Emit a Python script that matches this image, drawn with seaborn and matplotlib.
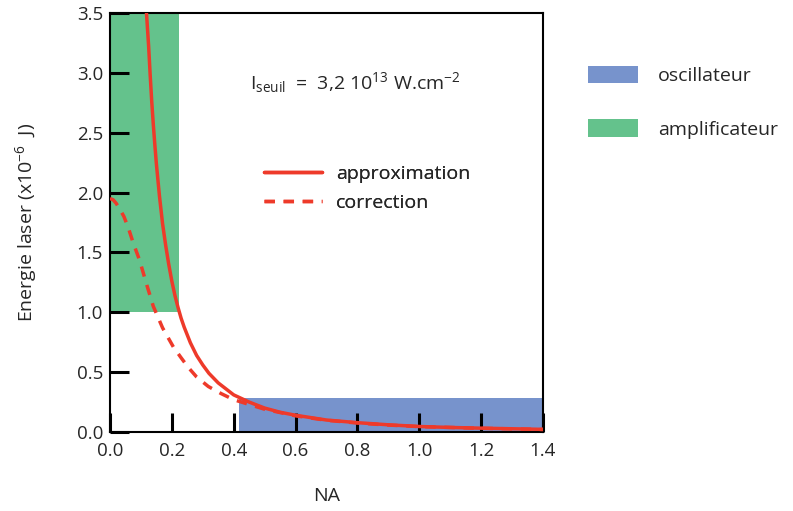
import numpy as np
import pandas as pd
import matplotlib.pyplot as plt
from matplotlib.patches import Rectangle, Patch
from matplotlib.lines import Line2D
import seaborn as sns

# approximation curve (solid)
na_approx = [0.118, 0.125, 0.13, 0.135, 0.14, 0.145, 0.15, 0.16, 0.17, 0.18, 0.19,
             0.20, 0.21, 0.22, 0.23, 0.24, 0.25, 0.26, 0.28, 0.30, 0.32, 0.35,
             0.38, 0.40, 0.45, 0.50, 0.55, 0.60, 0.70, 0.80, 0.90, 1.00, 1.10,
             1.20, 1.30, 1.40]
e_approx = [3.50, 3.22, 2.98, 2.76, 2.57, 2.40, 2.24, 1.97, 1.74, 1.56, 1.40,
            1.26, 1.14, 1.04, 0.95, 0.875, 0.81, 0.745, 0.64, 0.56, 0.49, 0.41,
            0.35, 0.31, 0.25, 0.20, 0.165, 0.14, 0.10, 0.078, 0.060, 0.046, 0.038,
            0.032, 0.027, 0.022]

# correction curve (dashed)
na_corr = [0.0, 0.01, 0.02, 0.03, 0.045, 0.06, 0.075, 0.095, 0.12, 0.14, 0.17,
           0.205, 0.23, 0.253, 0.28, 0.318, 0.36, 0.40, 0.45, 0.50, 0.60, 0.70,
           0.80, 0.90, 1.00, 1.20, 1.40]
e_corr = [1.95, 1.94, 1.91, 1.87, 1.80, 1.70, 1.58, 1.44, 1.22, 1.05, 0.87,
          0.71, 0.62, 0.54, 0.46, 0.38, 0.32, 0.27, 0.23, 0.19, 0.135, 0.098,
          0.075, 0.058, 0.045, 0.031, 0.021]

# regions (x0, x1, y0, y1)
amplificateur = [0.0, 0.223, 1.0, 3.5]
oscillateur = [0.417, 1.4, 0.0, 0.287]

red = '#ee3a2a'
green = '#64c28c'
blue = '#7793cc'

sns.set_style("ticks")
plt.rcParams['font.family'] = ['Open Sans', 'DejaVu Sans']
plt.rcParams['mathtext.fontset'] = 'custom'
plt.rcParams['mathtext.rm'] = 'Open Sans'
plt.rcParams['mathtext.it'] = 'Open Sans'

fig = plt.figure(figsize=(7.93, 5.11), dpi=100)
ax = fig.add_axes([0.1387, 0.1546, 0.546, 0.82])
ax.set_axisbelow(False)

for reg, col in [(amplificateur, green), (oscillateur, blue)]:
    ax.add_patch(Rectangle((reg[0], reg[2]), reg[1] - reg[0], reg[3] - reg[2],
                           facecolor=col, edgecolor='none', zorder=1))

df_a = pd.DataFrame({'NA': na_approx, 'E': e_approx})
df_c = pd.DataFrame({'NA': na_corr, 'E': e_corr})
sns.lineplot(data=df_c, x='NA', y='E', ax=ax, color=red, lw=2.5,
             linestyle=(0, (3, 2.5)), sort=False, zorder=3)
sns.lineplot(data=df_a, x='NA', y='E', ax=ax, color=red, lw=2.5, sort=False, zorder=4)

ax.set_xlim(0, 1.4)
ax.set_ylim(0, 3.5)
ax.set_xticks(np.arange(0, 1.41, 0.2))
ax.set_yticks(np.arange(0, 3.51, 0.5))
ax.xaxis.set_major_formatter(plt.FormatStrFormatter('%.1f'))
ax.yaxis.set_major_formatter(plt.FormatStrFormatter('%.1f'))
ax.tick_params(direction='in', length=14, width=2.2, labelsize=13.5, color='black')
ax.tick_params(axis='x', pad=7)
ax.tick_params(axis='y', pad=5)
for s in ax.spines.values():
    s.set_color('black')
    s.set_linewidth(1.5)

ax.set_xlabel('NA', fontsize=14, labelpad=20)
ax.set_ylabel('Energie laser (x10$^{-6}$  J)', fontsize=14, labelpad=27)

ax.text(0.323, 0.835, r'I$_{\mathrm{seuil}}$  =  3,2 10$^{13}$ W.cm$^{-2}$',
        transform=ax.transAxes, fontsize=14, va='center', ha='left')

line_handles = [Line2D([], [], color=red, lw=2.5),
                Line2D([], [], color=red, lw=2.5, linestyle=(0, (3, 2.5)))]
leg1 = ax.legend(line_handles, ['approximation', 'correction'], loc='upper left',
                 bbox_to_anchor=(0.315, 0.68), frameon=False, fontsize=14,
                 handlelength=3.0, handletextpad=0.7, labelspacing=0.6)
ax.add_artist(leg1)

patch_handles = [Patch(facecolor=blue, edgecolor='none'),
                 Patch(facecolor=green, edgecolor='none')]
fig.legend(patch_handles, ['oscillateur', 'amplificateur'], loc='upper left',
           bbox_to_anchor=(0.719, 0.905), frameon=False, fontsize=14,
           handlelength=2.6, handleheight=1.0, handletextpad=1.0, labelspacing=1.75)

fig.savefig('out.png', dpi=100)
